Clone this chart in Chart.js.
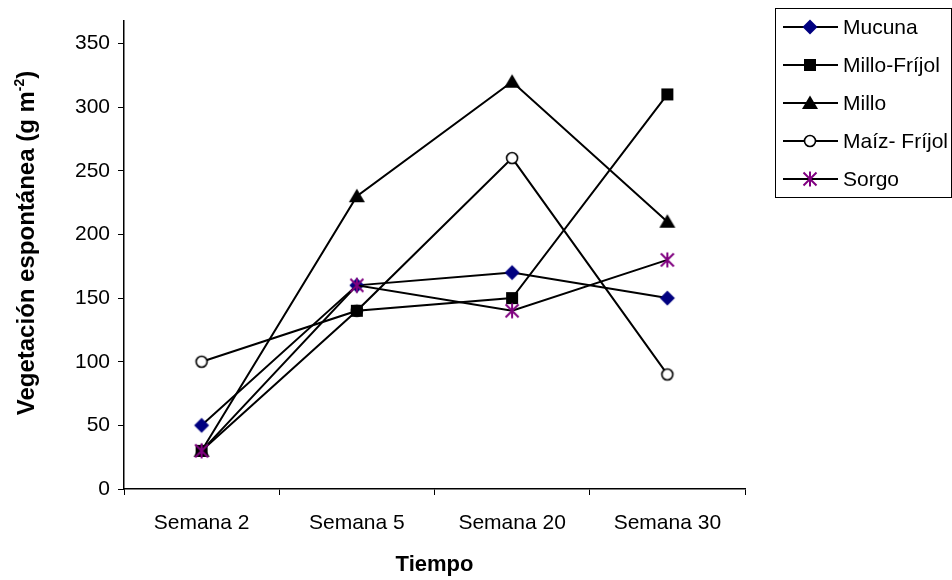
<!DOCTYPE html>
<html>
<head>
<meta charset="utf-8">
<script src="https://cdn.jsdelivr.net/npm/chart.js@4.4.1/dist/chart.umd.min.js"></script>
<style>
  body { margin: 0; background: #fff; }
  #wrap { width: 952px; height: 580px; position: relative; }
</style>
</head>
<body>
<div id="wrap"><canvas id="vegChart"></canvas></div>
<script>
const semanas = ['Semana 2', 'Semana 5', 'Semana 20', 'Semana 30'];
const mucuna = [50, 160, 170, 150];
const milloFrijol = [30, 140, 150, 310];
const millo = [30, 230, 320, 210];
const maizFrijol = [100, 140, 260, 90];
const sorgo = [30, 160, 140, 180];
const yTicks = [0, 50, 100, 150, 200, 250, 300, 350];

const FONT = '"Liberation Sans", Arial, sans-serif';

// small canvases used as markers, both in the plot and in the legend
function makeMarker(kind, color) {
    const c = document.createElement('canvas');
    c.width = 20; c.height = 20;
    const g = c.getContext('2d');
    g.translate(10, 10);
    g.fillStyle = color;
    g.strokeStyle = color;
    if (kind === 'diamond') {
        g.beginPath();
        g.moveTo(0, -7.5); g.lineTo(7.5, 0); g.lineTo(0, 7.5); g.lineTo(-7.5, 0);
        g.closePath(); g.fill();
    } else if (kind === 'square') {
        g.fillRect(-6, -6, 12, 12);
    } else if (kind === 'triangle') {
        g.beginPath();
        g.moveTo(0, -7.5); g.lineTo(8, 6); g.lineTo(-8, 6);
        g.closePath(); g.fill();
    } else if (kind === 'circle') {
        g.beginPath();
        g.arc(0, 0, 5.5, 0, Math.PI * 2);
        g.fillStyle = '#fff'; g.fill();
        g.lineWidth = 1.6; g.stroke();
    } else if (kind === 'star') {
        g.lineWidth = 2;
        g.beginPath();
        g.moveTo(0, -7.5); g.lineTo(0, 7.5);
        g.moveTo(-6.5, -6.5); g.lineTo(6.5, 6.5);
        g.moveTo(6.5, -6.5); g.lineTo(-6.5, 6.5);
        g.stroke();
    }
    return c;
}

function serie(label, data, marker, order) {
    return {
        label: label,
        data: data,
        borderColor: '#000',
        borderWidth: 2,
        pointStyle: marker,
        pointRadius: 7,
        order: order,
        fill: false,
        tension: 0
    };
}

const datasets = [
    serie('Mucuna', mucuna, makeMarker('diamond', '#000080'), 3),
    serie('Millo-Fríjol', milloFrijol, makeMarker('square', '#000'), 2),
    serie('Millo', millo, makeMarker('triangle', '#000'), 4),
    serie('Maíz- Fríjol', maizFrijol, makeMarker('circle', '#000'), 5),
    serie('Sorgo', sorgo, makeMarker('star', '#800080'), 1)
];

const boxLegend = {
    id: 'boxLegend',
    afterDraw(chart) {
        const ctx = chart.ctx;
        ctx.save();
        ctx.strokeStyle = '#000';
        ctx.lineWidth = 1;
        ctx.strokeRect(775.5, 8.5, 176, 189);
        ctx.font = '21px ' + FONT;
        ctx.textBaseline = 'middle';
        ctx.fillStyle = '#000';
        chart.data.datasets.forEach(function (ds, i) {
            const y = 27 + i * 38;
            ctx.beginPath();
            ctx.lineWidth = 2;
            ctx.moveTo(783, y); ctx.lineTo(838, y);
            ctx.stroke();
            const m = ds.pointStyle;
            ctx.drawImage(m, 810 - m.width / 2, y - m.height / 2);
            ctx.fillText(ds.label, 843, y + 1);
        });
        ctx.restore();
    }
};

// y title drawn by hand so the exponent can be a real superscript
const yTitle = {
    id: 'yTitle',
    afterDraw(chart) {
        const ctx = chart.ctx;
        const main = 'Vegetación espontánea (g m';
        const sup = '-2';
        const end = ')';
        ctx.save();
        ctx.fillStyle = '#000';
        ctx.textBaseline = 'alphabetic';
        ctx.font = 'bold 24px ' + FONT;
        const w1 = ctx.measureText(main).width;
        const w3 = ctx.measureText(end).width;
        ctx.font = 'bold 14px ' + FONT;
        const w2 = ctx.measureText(sup).width;
        const total = w1 + w2 + w3;
        ctx.translate(34, 243);
        ctx.rotate(-Math.PI / 2);
        let x = -total / 2;
        ctx.font = 'bold 24px ' + FONT;
        ctx.fillText(main, x, 0);
        x += w1;
        ctx.font = 'bold 14px ' + FONT;
        ctx.fillText(sup, x, -10);
        x += w2;
        ctx.font = 'bold 24px ' + FONT;
        ctx.fillText(end, x, 0);
        ctx.restore();
    }
};

new Chart(document.getElementById('vegChart').getContext('2d'), {
    type: 'line',
    data: { labels: semanas, datasets: datasets },
    options: {
        responsive: true,
        maintainAspectRatio: false,
        animation: false,
        events: [],
        layout: { padding: { top: 17, right: 207, left: 0, bottom: 0 } },
        plugins: {
            legend: { display: false },
            tooltip: { enabled: false }
        },
        scales: {
            x: {
                type: 'category',
                offset: true,
                grid: { display: true, drawOnChartArea: false, drawTicks: true, tickLength: 6, color: '#000', offset: true },
                border: { display: true, color: '#000', width: 1.5 },
                ticks: { color: '#000', font: { family: FONT, size: 21 }, padding: 16, maxRotation: 0 },
                title: { display: true, text: 'Tiempo', color: '#000', font: { family: FONT, size: 22, weight: 'bold' }, padding: { top: 0, bottom: 2 } },
                afterFit(scale) { scale.height = 91; }
            },
            y: {
                min: 0,
                max: 368,
                grid: { display: true, drawOnChartArea: false, drawTicks: true, tickLength: 6, color: '#000' },
                border: { display: true, color: '#000', width: 1.5 },
                ticks: { color: '#000', font: { family: FONT, size: 21 }, padding: 8 },
                afterBuildTicks(scale) { scale.ticks = yTicks.map(v => ({ value: v })); },
                afterFit(scale) { scale.width = 124; }
            }
        }
    },
    plugins: [boxLegend, yTitle]
});
</script>
</body>
</html>
